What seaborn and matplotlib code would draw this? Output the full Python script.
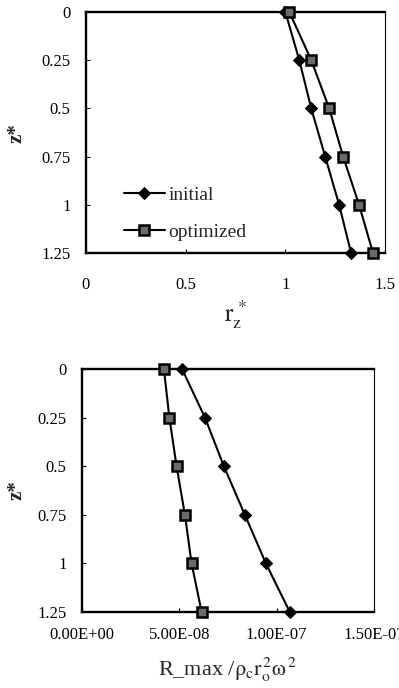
import pandas as pd
import matplotlib.pyplot as plt
import seaborn as sns

# depth positions (z*)
z_star = [0, 0.25, 0.5, 0.75, 1.0, 1.25]

# top panel: r_z*
rz_initial = [1.00, 1.07, 1.13, 1.20, 1.27, 1.33]
rz_optimized = [1.02, 1.13, 1.22, 1.29, 1.37, 1.44]

# bottom panel: R_max / (rho_c r_o^2 omega^2)
rmax_initial = [5.14e-8, 6.32e-8, 7.29e-8, 8.37e-8, 9.45e-8, 1.068e-7]
rmax_optimized = [4.21e-8, 4.49e-8, 4.86e-8, 5.29e-8, 5.63e-8, 6.15e-8]

xticks_top = [0, 0.5, 1, 1.5]
xticklabels_top = ["0", "0.5", "1", "1.5"]
xticks_bot = [0, 5e-8, 1e-7, 1.5e-7]
xticklabels_bot = ["0.00E+00", "5.00E-08", "1.00E-07", "1.50E-07"]
yticklabels = ["0", "0.25", "0.5", "0.75", "1", "1.25"]

sns.set_theme(style="white")
plt.rcParams['font.family'] = ['Liberation Serif', 'DejaVu Serif']
plt.rcParams['mathtext.fontset'] = 'stix'
plt.rcParams['font.size'] = 12

fig = plt.figure(figsize=(3.99, 6.88), dpi=100)
ax1 = fig.add_axes([0.2155, 0.632, 0.7495, 0.3506])
ax2 = fig.add_axes([0.2055, 0.1105, 0.7315, 0.3532])

styles = {
    "initial": dict(marker="D", markersize=6.5, markerfacecolor="black",
                    markeredgecolor="black"),
    "optimized": dict(marker="s", markersize=6.5, markerfacecolor="#6a6a6a",
                      markeredgecolor="black", markeredgewidth=1.8),
}


def draw(ax, initial, optimized):
    for name, vals in [("initial", initial), ("optimized", optimized)]:
        df = pd.DataFrame({"x": vals, "z": z_star})
        sns.lineplot(data=df, x="x", y="z", sort=False, estimator=None,
                     color="black", linewidth=1.5, label=name, ax=ax,
                     clip_on=False, zorder=3, **styles[name])
    ax.set_ylim(1.25, 0)
    ax.set_yticks(z_star)
    ax.set_yticklabels(yticklabels, fontsize=12)
    ax.set_ylabel("z*", fontsize=15, fontweight="bold")
    for side in ["left", "top", "bottom"]:
        ax.spines[side].set_linewidth(1.7)
        ax.spines[side].set_color("black")
    ax.spines["right"].set_linewidth(0.8)
    ax.spines["right"].set_color("black")
    ax.tick_params(axis="x", direction="in", length=3, width=0.8, colors="black",
                   bottom=True)
    ax.tick_params(axis="y", direction="in", length=3, width=0.8, pad=11,
                   colors="black", left=True)


draw(ax1, rz_initial, rz_optimized)
ax1.set_xlim(0, 1.5)
ax1.set_xticks(xticks_top)
ax1.set_xticklabels(xticklabels_top, fontsize=12)
ax1.tick_params(axis="x", pad=17)
ax1.set_xlabel(r"$\mathrm{r_z^{\,*}}$", fontsize=18, labelpad=4)
ax1.yaxis.set_label_coords(-0.20, 0.5)
ax1.legend(loc="lower left", bbox_to_anchor=(0.10, 0.02), frameon=False,
           fontsize=14, handlelength=2.1, handletextpad=0.2, labelspacing=1.0,
           borderaxespad=0)

draw(ax2, rmax_initial, rmax_optimized)
ax2.get_legend().remove()
ax2.set_xlim(0, 1.5e-7)
ax2.set_xticks(xticks_bot)
ax2.set_xticklabels(xticklabels_bot, fontsize=12)
ax2.tick_params(axis="x", pad=11)
ax2.set_xlabel(r"R_max /$\mathrm{\rho_c r_o^{\,2}\omega^{\,2}}$",
               fontsize=16, labelpad=9)
ax2.yaxis.set_label_coords(-0.19, 0.5)

fig.savefig("out.png", dpi=100)
